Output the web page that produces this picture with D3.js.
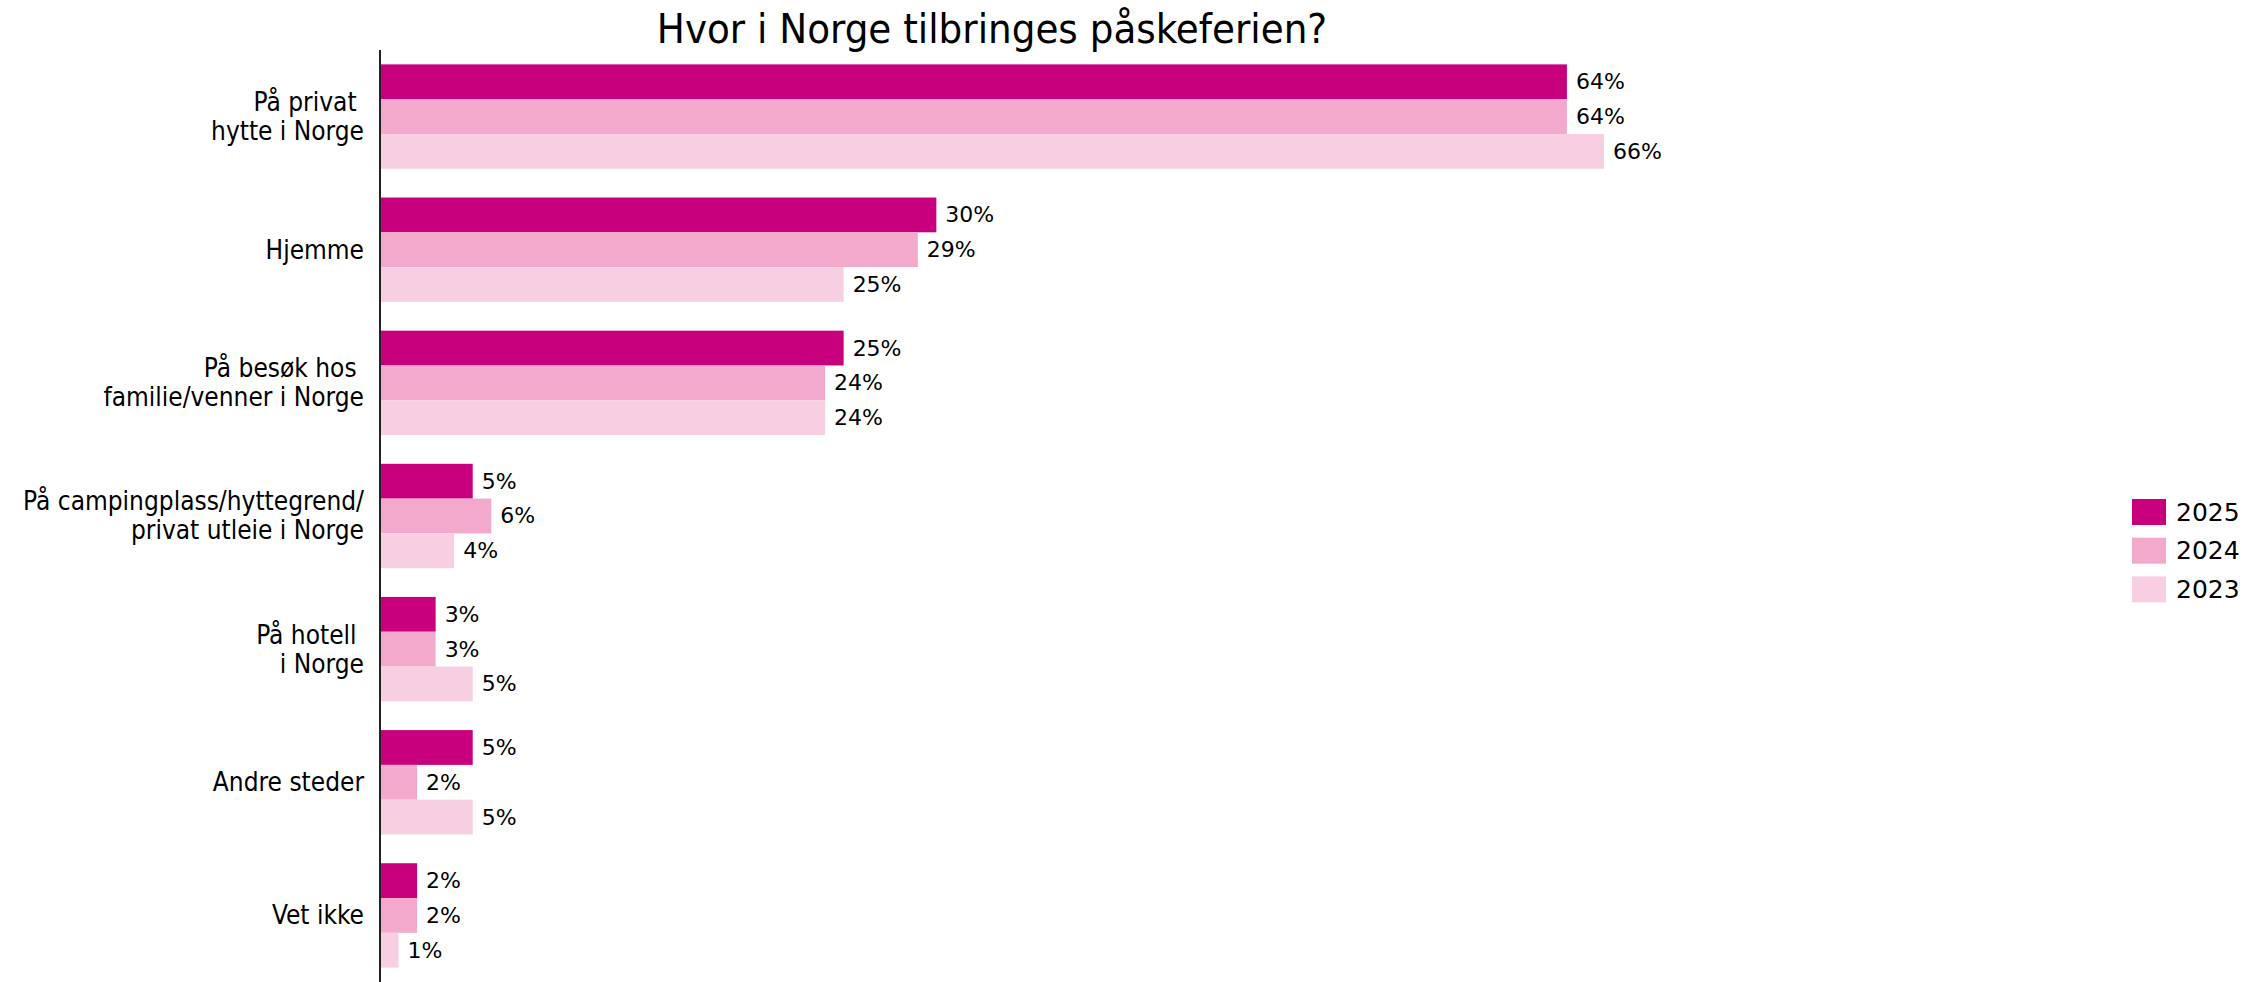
<!DOCTYPE html>
<html>
<head>
<meta charset="utf-8">
<script src="https://cdn.jsdelivr.net/npm/d3@7"></script>
<style>
  body { margin: 0; background: #fff; }
  text { font-family: "DejaVu Sans Condensed", "DejaVu Sans", sans-serif; fill: #000; }
  .num { font-family: "DejaVu Sans", sans-serif; }
</style>
</head>
<body>
<script>
// Data
const categories = [
  ["På privat ", "hytte i Norge"],
  ["Hjemme"],
  ["På besøk hos ", "familie/venner i Norge"],
  ["På campingplass/hyttegrend/", "privat utleie i Norge"],
  ["På hotell ", "i Norge"],
  ["Andre steder"],
  ["Vet ikke"]
];
const years = ["2025", "2024", "2023"];
const values2025 = [64, 30, 25, 5, 3, 5, 2];
const values2024 = [64, 29, 24, 6, 3, 2, 2];
const values2023 = [66, 25, 24, 4, 5, 5, 1];
const colors = ["#c9007e", "#f3a9cb", "#f8cfe2"];

const WIDTH = 2248, HEIGHT = 982;
const series = [values2025, values2024, values2023];

const svg = d3.select("body").append("svg")
  .attr("width", WIDTH)
  .attr("height", HEIGHT);

// Scales
const y = d3.scaleBand()
  .domain(d3.range(categories.length))
  .range([50, 982])
  .paddingInner(0.216)
  .paddingOuter(0.108);
const yInner = d3.scaleBand()
  .domain(years)
  .range([0, y.bandwidth()]);
const x = d3.scaleLinear()
  .domain([0, 66])
  .range([380, 1604]);

// Title, centred over the plot
svg.append("text")
  .attr("x", (x.range()[0] + x.range()[1]) / 2)
  .attr("y", 43)
  .attr("text-anchor", "middle")
  .style("font-size", "41.5px")
  .text("Hvor i Norge tilbringes påskeferien?");

// Bars and value labels
const groups = svg.selectAll(".group")
  .data(categories)
  .enter().append("g")
  .attr("class", "group")
  .attr("transform", (d, i) => `translate(0,${y(i)})`);

years.forEach((yr, s) => {
  groups.append("rect")
    .attr("x", x(0))
    .attr("y", yInner(yr))
    .attr("width", (d, i) => x(series[s][i]) - x(0))
    .attr("height", yInner.bandwidth())
    .attr("fill", colors[s]);
  groups.append("text")
    .attr("class", "num")
    .attr("x", (d, i) => x(series[s][i]) + 9)
    .attr("y", yInner(yr) + yInner.bandwidth() / 2)
    .attr("dominant-baseline", "central")
    .style("font-size", "22px")
    .text((d, i) => series[s][i] + "%");
});

// Category labels
const LINE_H = 29;
groups.append("text")
  .attr("text-anchor", "end")
  .style("font-size", "26px")
  .each(function(d) {
    const t = d3.select(this);
    d.forEach((line, k) => {
      t.append("tspan")
        .attr("x", x(0) - 16)
        .attr("y", y.bandwidth() / 2 + (k - (d.length - 1) / 2) * LINE_H)
        .attr("dominant-baseline", "central")
        .attr("xml:space", "preserve")
        .style("white-space", "pre")
        .text(line);
    });
  });

// Axis line
svg.append("line")
  .attr("x1", x(0)).attr("x2", x(0))
  .attr("y1", 50).attr("y2", HEIGHT)
  .attr("stroke", "#222")
  .attr("stroke-width", 2);

// Legend
const legend = svg.selectAll(".legend")
  .data(years)
  .enter().append("g")
  .attr("class", "legend")
  .attr("transform", (d, i) => `translate(2132,${499 + i * 38.7})`);
legend.append("rect")
  .attr("width", 34)
  .attr("height", 26)
  .attr("fill", (d, i) => colors[i]);
legend.append("text")
  .attr("class", "num")
  .attr("x", 44)
  .attr("y", 13)
  .attr("dominant-baseline", "central")
  .style("font-size", "25px")
  .text(d => d);
</script>
</body>
</html>
